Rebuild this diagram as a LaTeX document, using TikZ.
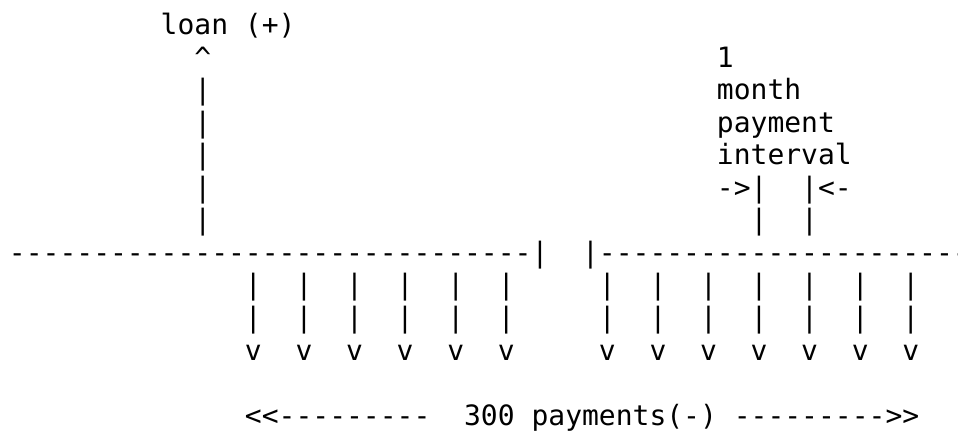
\documentclass[tikz,border=0pt]{standalone}
\usepackage{fontspec}
\setmonofont{DejaVu Sans Mono}
\begin{document}
\begin{tikzpicture}[x=1pt,y=1pt,
  glyphs/.style={anchor=base west, inner sep=0pt, outer sep=0pt,
    font=\ttfamily\fontsize{28}{32.5}\selectfont}]
% character cell: width \W, line pitch \H, first column at x=9, first baseline at y=-35
\def\W{16.856}
\def\H{32.5}
\useasboundingbox (0,0) rectangle (958,-435);
\clip (0,0) rectangle (958,-435);

% loan arrow
\node[glyphs] (loan)  at ({9+\W*9},{-35-\H*0}) {loan (+)};
\node[glyphs] (caret) at ({9+\W*11},{-35-\H*1}) {\textasciicircum};
\foreach \r in {2,...,6}
  \node[glyphs] (up-\r) at ({9+\W*11},{-35-\H*\r}) {|};

% payment interval label
\node[glyphs] (one)      at ({9+\W*42},{-35-\H*1}) {1};
\node[glyphs] (month)    at ({9+\W*42},{-35-\H*2}) {month};
\node[glyphs] (payment)  at ({9+\W*42},{-35-\H*3}) {payment};
\node[glyphs] (interval) at ({9+\W*42},{-35-\H*4}) {interval};
\node[glyphs] (ivl-l)    at ({9+\W*42},{-35-\H*5}) {->|};
\node[glyphs] (ivl-r)    at ({9+\W*47},{-35-\H*5}) {|<-};
\node[glyphs] (tick-l)   at ({9+\W*44},{-35-\H*6}) {|};
\node[glyphs] (tick-r)   at ({9+\W*47},{-35-\H*6}) {|};

% time line with a break
\node[glyphs] (line-l) at ({9+\W*0},{-35-\H*7}) {-------------------------------|};
\node[glyphs] (line-r) at ({9+\W*34},{-35-\H*7}) {|-------------------------};

% payments
\foreach \c in {14,17,20,23,26,29,35,38,41,44,47,50,53} {
  \node[glyphs] (pa-\c) at ({9+\W*\c},{-35-\H*8}) {|};
  \node[glyphs] (pb-\c) at ({9+\W*\c},{-35-\H*9}) {|};
  \node[glyphs] (pv-\c) at ({9+\W*\c},{-35-\H*10}) {v};
}

% payment count
\node[glyphs] (count-l) at ({9+\W*14},{-35-\H*12}) {<<---------};
\node[glyphs] (count-r) at ({9+\W*27},{-35-\H*12}) {300 payments(-) --------->>};
\end{tikzpicture}
\end{document}
